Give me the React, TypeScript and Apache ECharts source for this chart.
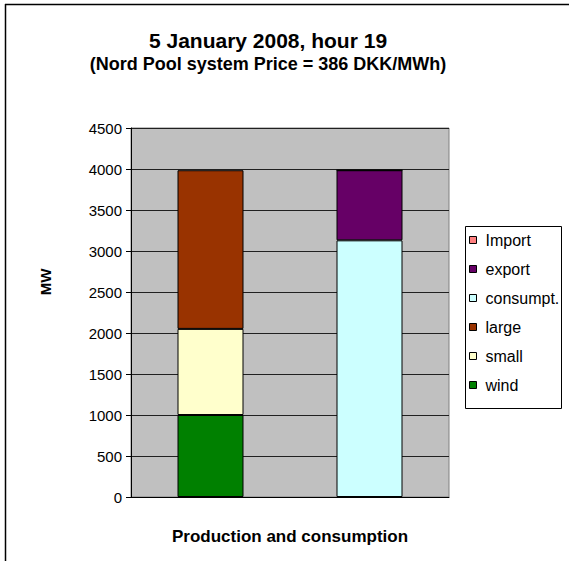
import React, { useEffect, useRef } from "react";
import * as echarts from "echarts";

const categories = ["Production", "Consumption"];
const seriesNames = ["wind", "small", "large", "consumpt.", "export", "Import"];
const windValues = [1000, null];
const smallValues = [1050, null];
const largeValues = [1935, null];
const consumptValues = [null, 3130];
const exportValues = [null, 855];
const importValues = [null, 0];
const legendOrder = ["Import", "export", "consumpt.", "large", "small", "wind"];
const seriesColors = ["#008000", "#FFFFCC", "#993300", "#CCFFFF", "#660066", "#FF8080"];
const yTicks = { min: 0, max: 4500, interval: 500 };

const FONT = "'Liberation Sans', Arial, sans-serif";

export default function App() {
  const ref = useRef<HTMLDivElement>(null);
  useEffect(() => {
    if (!ref.current) return;
    const chart = echarts.init(ref.current, null, { renderer: "svg" });
    const values = [windValues, smallValues, largeValues, consumptValues, exportValues, importValues];
    chart.setOption({
      animation: false,
      backgroundColor: "#ffffff",
      textStyle: { fontFamily: FONT },
      title: [
        {
          text: "5 January 2008, hour 19",
          left: 268,
          top: 30,
          padding: 0,
          textAlign: "center",
          textStyle: { fontFamily: FONT, fontSize: 21, fontWeight: "bold", color: "#000" },
        },
        {
          text: "(Nord Pool system Price = 386 DKK/MWh)",
          left: 268,
          top: 55,
          padding: 0,
          textAlign: "center",
          textStyle: { fontFamily: FONT, fontSize: 18, fontWeight: "bold", color: "#000" },
        },
      ],
      grid: {
        left: 131,
        top: 128,
        right: 120,
        bottom: 64,
        show: true,
        backgroundColor: "#C0C0C0",
        borderColor: "#808080",
        borderWidth: 1,
      },
      legend: {
        data: legendOrder,
        orient: "vertical",
        left: 469,
        top: 225.5,
        padding: 0,
        itemGap: 0,
        itemWidth: 7,
        itemHeight: 7,
        icon: "rect",
        itemStyle: { borderColor: "#000", borderWidth: 1 },
        textStyle: {
          fontFamily: FONT,
          fontSize: 16,
          lineHeight: 29,
          color: "#000",
          padding: [0, 0, 0, 4],
        },
      },
      xAxis: {
        type: "category",
        data: categories,
        name: "Production and consumption",
        nameLocation: "middle",
        nameGap: 31,
        nameTextStyle: { fontFamily: FONT, fontSize: 17, fontWeight: "bold", color: "#000" },
        axisLine: { show: true, lineStyle: { color: "#000", width: 1 } },
        axisTick: { show: false },
        axisLabel: { show: false },
        splitLine: { show: false },
      },
      yAxis: {
        type: "value",
        min: yTicks.min,
        max: yTicks.max,
        interval: yTicks.interval,
        axisLine: { show: true, lineStyle: { color: "#000", width: 1 } },
        axisTick: { show: true, length: 5, lineStyle: { color: "#000" } },
        axisLabel: {
          fontFamily: FONT,
          fontSize: 15,
          color: "#000",
          margin: 9,
          formatter: (v: number) => String(v),
        },
        splitLine: { show: true, lineStyle: { color: "#202020", width: 1 } },
      },
      series: seriesNames.map((name, i) => ({
        name,
        type: "bar",
        stack: "total",
        data: values[i],
        barWidth: 66,
        itemStyle: { color: seriesColors[i], borderColor: "#000", borderWidth: 1 },
      })),
      graphic: [
        {
          type: "line",
          shape: { x1: 5, y1: 4.5, x2: 569, y2: 4.5 },
          style: { stroke: "#000", lineWidth: 1.5 },
        },
        {
          type: "line",
          shape: { x1: 5.5, y1: 4, x2: 5.5, y2: 561 },
          style: { stroke: "#000", lineWidth: 1.5 },
        },
        {
          type: "rect",
          shape: { x: 465.5, y: 226.5, width: 96, height: 182 },
          style: { fill: "#ffffff", stroke: "#000", lineWidth: 1 },
          z: -1,
        },
        {
          type: "text",
          x: 45,
          y: 282,
          rotation: Math.PI / 2,
          style: {
            text: "MW",
            fontFamily: FONT,
            fontSize: 15,
            fontWeight: "bold",
            fill: "#000",
            textAlign: "center",
            textVerticalAlign: "middle",
          },
        },
      ],
    });
    return () => chart.dispose();
  }, []);
  return (
    <div
      ref={ref}
      style={{ position: "fixed", left: 0, top: 0, width: 569, height: 561 }}
    />
  );
}
